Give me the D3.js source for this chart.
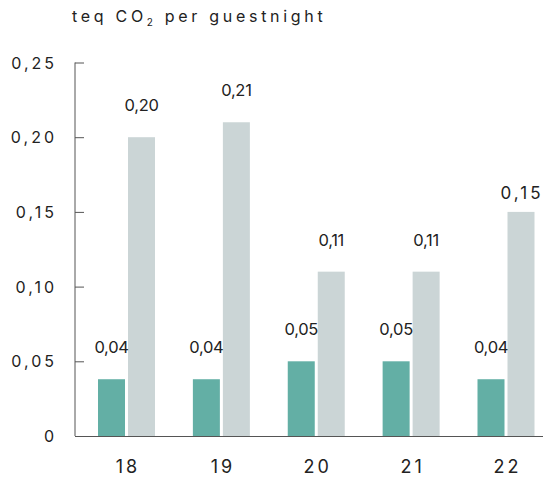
<!DOCTYPE html>
<html>
<head>
<meta charset="utf-8">
<script src="https://cdn.jsdelivr.net/npm/d3@7"></script>
<style>
  body { margin: 0; background: #fff; }
  svg text { font-family: Inter, "Open Sans", sans-serif; fill: #222; }
</style>
</head>
<body>
<div class="chart"></div>
<script>
var years = ['18', '19', '20', '21', '22']
  , seriesNames = ['green', 'grey']
  , greenValues = [0.038, 0.038, 0.05, 0.05, 0.038]
  , greyValues = [0.20, 0.21, 0.11, 0.11, 0.15]
  , yTicks = [0, 0.05, 0.10, 0.15, 0.20, 0.25]
  , colors = { green: '#63afa5', grey: '#cbd5d6' };

var w = 543
  , h = 478;

var svg = d3.select('.chart')
            .append('svg')
            .attr('width', w)
            .attr('height', h);

var x = d3.scalePoint()
          .domain(years)
          .range([126.5, 506]);

var inner = d3.scaleBand()
              .domain(seriesNames)
              .range([-28.5, 28.5])
              .paddingInner(0.1);

var y = d3.scaleLinear()
          .domain([0, 0.25])
          .range([436, 62.5]);

var fmt = function (v) {
  if (v === 0) return '0';
  return d3.format('.2f')(v).replace('.', ',');
};

// title
var title = svg.append('text')
               .attr('x', 72)
               .attr('y', 22)
               .style('font-size', '16px')
               .style('letter-spacing', '3.7px');
title.append('tspan').text('teq CO');
title.append('tspan').attr('dy', 4).style('font-size', '10px').text('2');
title.append('tspan').attr('dy', -4).text(' per guestnight');

// y axis
var yAxis = svg.append('g')
               .attr('transform', 'translate(75,0)')
               .call(d3.axisRight(y).tickValues(yTicks).tickSize(9).tickFormat(''));
yAxis.select('.domain').attr('stroke', '#555').attr('d', 'M0,' + y(0.25) + 'V' + y(0));
yAxis.selectAll('.tick line').attr('stroke', '#555');

svg.selectAll('text.ytick')
   .data(yTicks)
   .enter()
   .append('text')
   .attr('class', 'ytick')
   .attr('x', 57)
   .attr('y', function (d) { return y(d) + 6; })
   .attr('text-anchor', 'end')
   .style('font-size', '16px')
   .style('letter-spacing', '3px')
   .text(fmt);

// bars
var rows = years.map(function (yr, i) {
  return { year: yr, values: [
    { key: 'green', value: greenValues[i] },
    { key: 'grey', value: greyValues[i] }
  ] };
});

var groups = svg.selectAll('g.year')
                .data(rows)
                .enter()
                .append('g')
                .attr('class', 'year')
                .attr('transform', function (d) { return 'translate(' + x(d.year) + ',0)'; });

groups.selectAll('rect')
      .data(function (d) { return d.values; })
      .enter()
      .append('rect')
      .attr('x', function (d) { return inner(d.key); })
      .attr('width', inner.bandwidth())
      .attr('y', function (d) { return y(d.value); })
      .attr('height', function (d) { return y(0) - y(d.value); })
      .attr('fill', function (d) { return colors[d.key]; });

groups.selectAll('text.val')
      .data(function (d) { return d.values.map(function (v) { return Object.assign({ year: d.year }, v); }); })
      .enter()
      .append('text')
      .attr('class', 'val')
      .each(function (d) {
        var t = d3.select(this)
          , cx = inner(d.key) + inner.bandwidth() / 2;
        // last grey label uses the spaced axis style
        if (d.key === 'grey' && d.year === years[years.length - 1]) {
          t.attr('x', cx + 1).attr('y', y(d.value) - 13)
           .style('font-size', '17px').style('letter-spacing', '3px');
        } else {
          t.attr('x', cx).attr('y', y(d.value) - 26)
           .style('font-size', '16.5px').style('letter-spacing', '-0.3px');
        }
      })
      .attr('text-anchor', 'middle')
      .text(function (d) { return fmt(d.value); });

// x axis
svg.append('line')
   .attr('x1', 75)
   .attr('x2', w)
   .attr('y1', y(0) + 0.5)
   .attr('y2', y(0) + 0.5)
   .attr('stroke', '#555');

svg.selectAll('text.xtick')
   .data(years)
   .enter()
   .append('text')
   .attr('class', 'xtick')
   .attr('x', function (d) { return x(d) + 1.5; })
   .attr('y', 473)
   .attr('text-anchor', 'middle')
   .style('font-size', '18px')
   .style('letter-spacing', '3px')
   .text(function (d) { return d; });
</script>
</body>
</html>
